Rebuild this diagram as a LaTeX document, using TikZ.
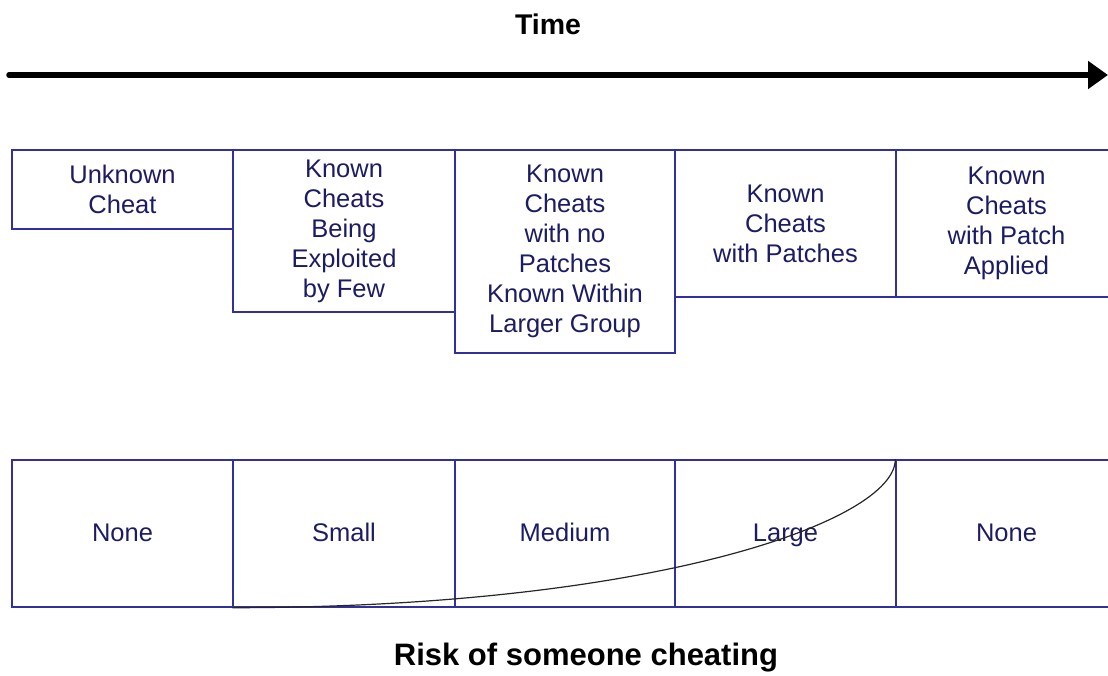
\documentclass[tikz,border=0pt]{standalone}
\usepackage{fontspec}
\setmainfont{Liberation Sans}
\usetikzlibrary{arrows.meta}
\definecolor{boxline}{RGB}{48,48,160}
\definecolor{boxtext}{RGB}{28,28,100}
\tikzset{
  stagebox/.style={draw=boxline, line width=1.4pt, inner sep=0pt, align=center,
    text=boxtext, font=\fontsize{25.5}{30}\selectfont},
  riskbox/.style={stagebox, minimum height=147pt, text height=20pt, text depth=4pt},
  title/.style={font=\bfseries\fontsize{28.5}{32}\selectfont, text=black},
  riskcurve/.style={draw=black!85, line width=1.2pt},
  timearrow/.style={line width=5.5pt, line cap=round, -{Triangle[length=20pt,width=27pt]}}
}
\begin{document}
\begin{tikzpicture}[x=1pt,y=1pt]
\useasboundingbox (0,0) rectangle (1108,675);
% title and time arrow
\node[title] (time) at (548,651) {Time};
\coordinate (tstart) at (9,600);
\coordinate (tend) at (1108,600);
\draw[timearrow] (tstart) -- (tend);
% top row
\node[stagebox, minimum width=221pt, minimum height=79pt] (t1) at (122.5,485.5) {Unknown\\Cheat};
\node[stagebox, minimum width=222pt, minimum height=162pt] (t2) at (344,444) {Known\\Cheats\\Being\\Exploited\\by Few};
\node[stagebox, minimum width=220pt, minimum height=203pt] (t3) at (565,423.5) {Known\\Cheats\\with no\\Patches\\Known Within\\Larger Group};
\node[stagebox, minimum width=221pt, minimum height=147pt] (t4) at (785.5,451.5) {Known\\Cheats\\with Patches};
\node[stagebox, minimum width=221pt, minimum height=147pt] (t5) at (1006.5,451.5) {Known\\Cheats\\with Patch\\Applied};
% bottom row
\node[riskbox, minimum width=221pt] (b1) at (122.5,141.5) {None};
\node[riskbox, minimum width=222pt] (b2) at (344,141.5) {Small};
\node[riskbox, minimum width=220pt] (b3) at (565,141.5) {Medium};
\node[riskbox, minimum width=221pt] (b4) at (785.5,141.5) {Large};
\node[riskbox, minimum width=221pt] (b5) at (1006.5,141.5) {None};
% risk curve
\draw[riskcurve] (b2.south west) .. controls +(420,0) and +(0,-62) .. (b5.north west);
% bottom title
\node[title, font=\bfseries\fontsize{31}{34}\selectfont] (risk) at (586,17) {Risk of someone cheating};
\end{tikzpicture}
\end{document}
